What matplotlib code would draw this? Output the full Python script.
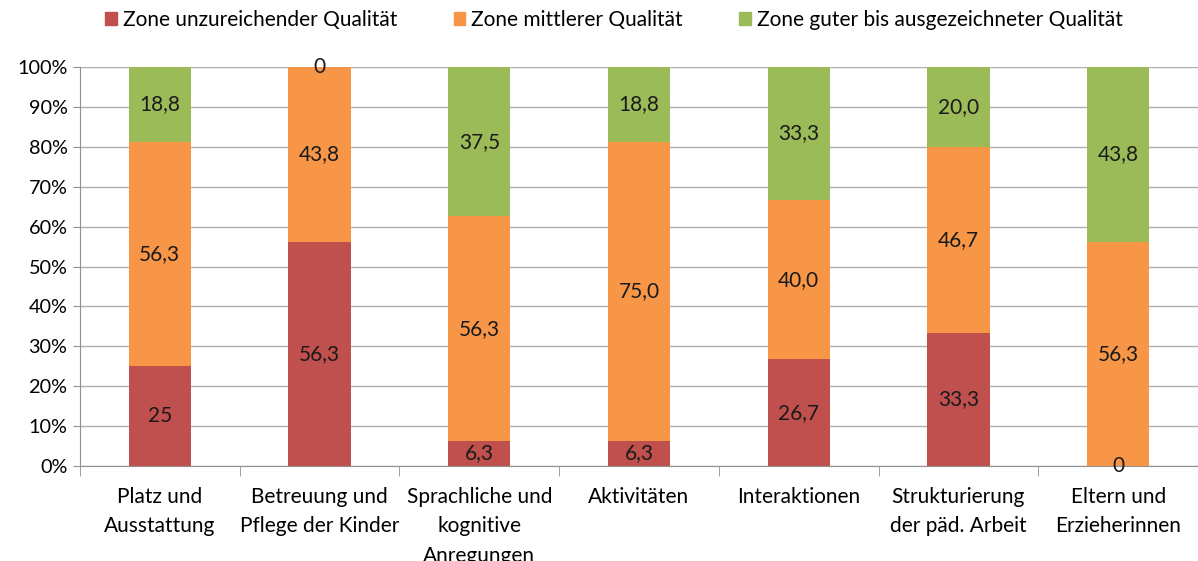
import numpy as np
import matplotlib
matplotlib.use("Agg")
import matplotlib.pyplot as plt
from matplotlib.patches import Patch

plt.rcParams['font.family'] = ['Lato', 'DejaVu Sans']

# ── data ────────────────────────────────────────────────────────────────
categories = ["Platz und\nAusstattung", "Betreuung und\nPflege der Kinder",
              "Sprachliche und\nkognitive\nAnregungen", "Aktivitäten",
              "Interaktionen", "Strukturierung\nder päd. Arbeit",
              "Eltern und\nErzieherinnen"]
series_names = ["Zone unzureichender Qualität", "Zone mittlerer Qualität",
                "Zone guter bis ausgezeichneter Qualität"]
low  = [25.0, 56.3, 6.3, 6.3, 26.7, 33.3, 0.0]
mid  = [56.3, 43.8, 56.3, 75.0, 40.0, 46.7, 56.3]
high = [18.8, 0.0, 37.5, 18.8, 33.3, 20.0, 43.8]
low_lbl  = ["25", "56,3", "6,3", "6,3", "26,7", "33,3", "0"]
mid_lbl  = ["56,3", "43,8", "56,3", "75,0", "40,0", "46,7", "56,3"]
high_lbl = ["18,8", "0", "37,5", "18,8", "33,3", "20,0", "43,8"]
colors = ["#C0504D", "#F79646", "#9BBB59"]

# 100% stacked: normalise each column
data = np.array([low, mid, high])
share = data / data.sum(axis=0) * 100
labels = [low_lbl, mid_lbl, high_lbl]

FS = 15

fig = plt.figure(figsize=(11.98, 5.61), dpi=100)
ax = fig.add_axes([80/1198, 1 - 466/561, 1 - 80/1198, (466 - 67)/561])

x = np.arange(len(categories))
bottom = np.zeros(len(categories))
for i in range(3):
    ax.bar(x, share[i], 0.39, bottom=bottom, color=colors[i], zorder=3)
    for xi, b, h, t in zip(x, bottom, share[i], labels[i]):
        ax.text(xi, b + h / 2, t, ha="center", va="center",
                fontsize=FS, color="#1a1a1a", zorder=4)
    bottom += share[i]

ax.set_xlim(-0.5, len(categories) - 0.5)
ax.set_ylim(0, 100)
ax.set_yticks(np.arange(0, 101, 10))
ax.set_yticklabels([f"{v}%" for v in range(0, 101, 10)], fontsize=14.3)
ax.yaxis.grid(True, color="#b0b0b0", linewidth=1, zorder=0)
ax.tick_params(axis="y", length=5, color="#909090", pad=4)

ax.set_xticks(x)
ax.set_xticklabels(categories, fontsize=FS, linespacing=1.6)
ax.set_xticks(np.arange(-0.5, len(categories)), minor=True)
ax.tick_params(axis="x", which="major", length=0, pad=15)
ax.tick_params(axis="x", which="minor", length=7, color="#909090")

for s in ["top", "right"]:
    ax.spines[s].set_visible(False)
for s in ["left", "bottom"]:
    ax.spines[s].set_color("#909090")

handles = [Patch(color=c) for c in colors]
fig.legend(handles, series_names, loc="center", ncol=3,
           bbox_to_anchor=(614/1198, 1 - 20/561), frameon=False,
           fontsize=FS, handlelength=0.55, handleheight=0.55,
           handletextpad=0.3, columnspacing=2.7)

fig.savefig("out.png", dpi=100)
